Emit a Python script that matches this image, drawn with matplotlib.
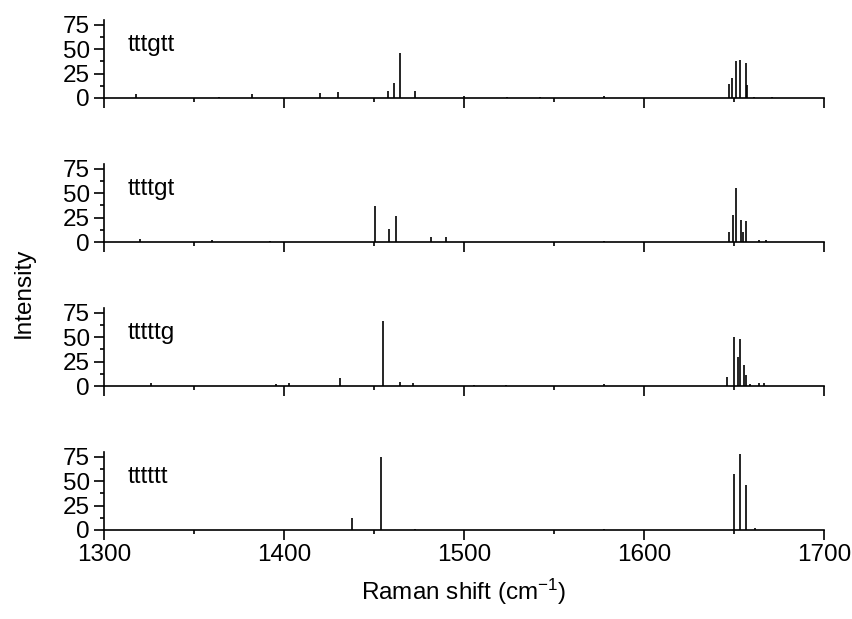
import matplotlib
matplotlib.use("Agg")
import matplotlib.pyplot as plt
from matplotlib.ticker import MultipleLocator

plt.rcParams["font.family"] = ["Liberation Sans", "DejaVu Sans"]
plt.rcParams["mathtext.fontset"] = "custom"
plt.rcParams["mathtext.rm"] = "Liberation Sans"
plt.rcParams["mathtext.it"] = "Liberation Sans:italic"

# conformer labels, top to bottom
names = ["tttgtt", "ttttgt", "tttttg", "tttttt"]

# stick spectra: Raman shift (cm-1) and intensity
tttgtt_pos = [1318, 1364, 1382, 1420, 1430, 1458, 1461.3, 1464.4, 1473, 1500,
              1524, 1542, 1578, 1647.4, 1648.7, 1650.9, 1653.3, 1656.5, 1657.4,
              1661, 1671]
tttgtt_int = [4, 1, 4, 5, 6, 7, 15, 46, 7.5, 2,
              1, 1, 2, 14, 21, 38, 39, 36, 13,
              1, 1]

ttttgt_pos = [1320, 1360, 1392.5, 1450.4, 1458.1, 1462.2, 1481.5, 1489.8, 1578,
              1647.4, 1649.4, 1650.9, 1653.7, 1655.2, 1656.5, 1663.7, 1667.8]
ttttgt_int = [3, 2, 1, 37, 13.5, 27, 5, 5, 1.5,
              10.5, 28, 55, 23, 10.5, 22, 2.5, 2.5]

tttttg_pos = [1326, 1395.6, 1402.8, 1430.9, 1454.9, 1464.7, 1471.5, 1505.5,
              1523.6, 1578, 1646, 1649.8, 1652.3, 1653.2, 1655.8, 1656.6, 1659,
              1664, 1667]
tttttg_int = [3, 2, 3, 8, 67, 4, 3, 1,
              1, 2, 9, 50, 30, 48, 22, 11, 2,
              3, 3]

tttttt_pos = [1438, 1453.8, 1472.6, 1578, 1650, 1653.5, 1656.7, 1662]
tttttt_int = [12, 75, 1.5, 1, 57, 78, 46, 2]

spectra = [(tttgtt_pos, tttgtt_int), (ttttgt_pos, ttttgt_int),
           (tttttg_pos, tttttg_int), (tttttt_pos, tttttt_int)]

fig = plt.figure(figsize=(8.52, 6.19), dpi=100)

left, width, height = 0.122, 0.845, 0.126
bottoms = [0.8417, 0.609, 0.3764, 0.1438]
fs = 17.5

axes = []
for i, (name, (pos, inten)) in enumerate(zip(names, spectra)):
    ax = fig.add_axes([left, bottoms[i], width, height])
    ax.vlines(pos, 0, inten, color="black", lw=1.2)
    ax.set_xlim(1300, 1700)
    ax.set_ylim(0, 80)
    ax.spines["top"].set_visible(False)
    ax.spines["right"].set_visible(False)
    ax.spines["left"].set_linewidth(1.2)
    ax.spines["bottom"].set_linewidth(1.2)
    ax.xaxis.set_major_locator(MultipleLocator(100))
    ax.xaxis.set_minor_locator(MultipleLocator(50))
    ax.yaxis.set_major_locator(MultipleLocator(25))
    ax.yaxis.set_minor_locator(MultipleLocator(12.5))
    ax.tick_params(which="major", direction="out", length=7, width=1.2,
                   labelsize=fs, pad=3)
    ax.tick_params(which="minor", direction="out", length=3.2, width=1.2)
    if i < 3:
        ax.tick_params(axis="x", labelbottom=False)
    ax.text(1313, 48, name, fontsize=fs, va="baseline", ha="left")
    axes.append(ax)

axes[-1].set_xlabel("Raman shift (cm$^{-1}$)", fontsize=fs, labelpad=8)
fig.text(0.028, 0.527, "Intensity", rotation=90, fontsize=fs,
         ha="center", va="center")

fig.savefig("out.png", dpi=100)
